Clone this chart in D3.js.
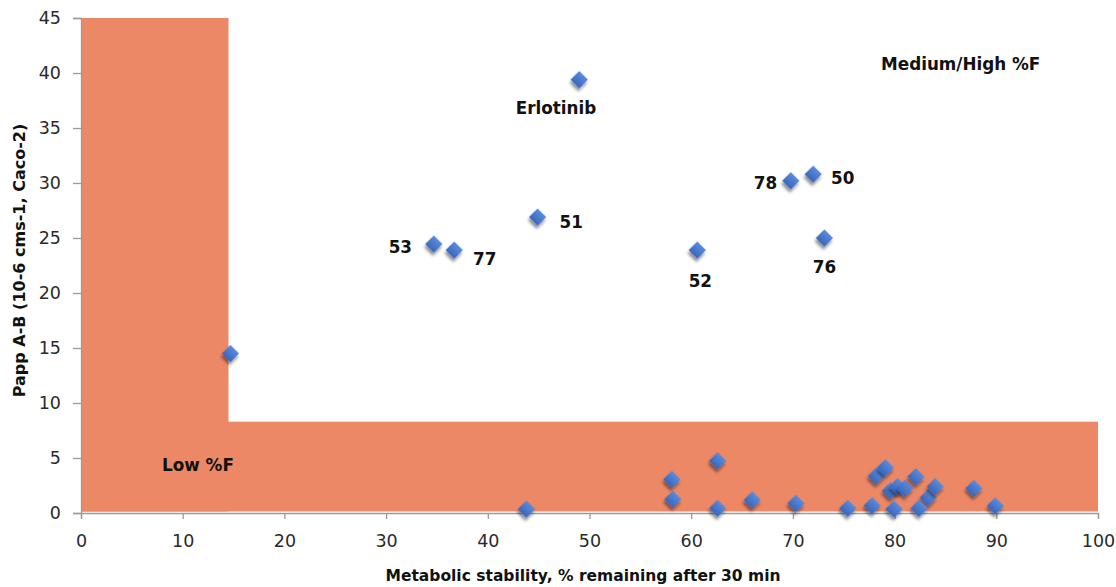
<!DOCTYPE html>
<meta charset="utf-8">
<script src="https://d3js.org/d3.v7.min.js"></script>
<style>
  body { margin: 0; background: #fff; }
  text { font-family: "DejaVu Sans", sans-serif; }
</style>
<body>
<div id="chart"></div>
<script>

// metabolic stability (% remaining) and Papp A-B values
var stability = [49.0, 14.7, 34.7, 36.7, 44.9, 60.6, 69.8, 72.0, 73.1,
                 43.8, 58.1, 58.2, 62.6, 62.6, 66.0, 70.3, 75.4, 77.8, 78.2,
                 79.1, 79.6, 80.3, 81.0, 79.95, 82.1, 83.3, 82.4, 84.0, 87.8, 89.9];
var papp = [39.4, 14.5, 24.45, 23.9, 26.9, 23.9, 30.2, 30.8, 25.0,
            0.35, 3.06, 1.25, 4.75, 0.43, 1.18, 0.88, 0.43, 0.67, 3.36,
            4.12, 2.03, 2.4, 2.24, 0.36, 3.3, 1.39, 0.43, 2.4, 2.24, 0.64];

// shaded "low %F" zone (data units)
var zoneX1 = [14.5, 100];
var zoneY1 = [45, 8.3];

// annotations, anchored in data units
var noteText = ["Erlotinib", "53", "77", "51", "52", "78", "50", "76", "Medium/High %F", "Low %F"];
var noteX    = [46.7, 31.4, 39.7, 48.2, 60.9, 67.3, 74.9, 73.1, 86.5, 11.5];
var noteY    = [36.8, 24.2, 23.1, 26.5, 21.1, 30.0, 30.5, 22.4, 40.8, 4.35];

var xTicks = [0, 10, 20, 30, 40, 50, 60, 70, 80, 90, 100];
var yTicks = [0, 5, 10, 15, 20, 25, 30, 35, 40, 45];

var margin = {top: 18, right: 18, bottom: 74, left: 81},
    width = 1116 - margin.left - margin.right,
    height = 587 - margin.top - margin.bottom;

var svg = d3.select("#chart")
  .append("svg")
    .attr("width", 1116)
    .attr("height", 587);

var defs = svg.append("defs");
var grad = defs.append("linearGradient")
    .attr("id", "blue")
    .attr("x1", 0).attr("y1", 0).attr("x2", 0).attr("y2", 1);
grad.append("stop").attr("offset", "0%").attr("stop-color", "#5a8bdc");
grad.append("stop").attr("offset", "100%").attr("stop-color", "#3a67bb");

var shadow = defs.append("filter")
    .attr("id", "shadow")
    .attr("x", "-50%").attr("y", "-50%")
    .attr("width", "200%").attr("height", "200%");
shadow.append("feDropShadow")
    .attr("dx", 1.5).attr("dy", 3)
    .attr("stdDeviation", 1.8)
    .attr("flood-color", "#000")
    .attr("flood-opacity", 0.45);

var g = svg.append("g")
    .attr("transform", "translate(" + margin.left + "," + margin.top + ")");

var x = d3.scaleLinear().domain([0, 100]).range([0, width]);
var y = d3.scaleLinear().domain([0, 45]).range([height, 0]);

// shaded zone
g.selectAll("rect.zone")
  .data(zoneX1)
  .enter()
  .append("rect")
    .attr("class", "zone")
    .attr("x", x(0))
    .attr("y", function(d, i) { return y(zoneY1[i]); })
    .attr("width", function(d) { return x(d) - x(0); })
    .attr("height", function(d, i) { return y(0) - y(zoneY1[i]) - 1.5; })
    .style("fill", "#ec8866");

// axes
var xAxis = d3.axisBottom(x).tickValues(xTicks).tickSize(6).tickPadding(16);
var yAxis = d3.axisLeft(y).tickValues(yTicks).tickSize(8).tickPadding(12);

var gx = g.append("g")
    .attr("transform", "translate(0," + height + ")")
    .call(xAxis);
var gy = g.append("g").call(yAxis);

[gx, gy].forEach(function(a) {
  a.select(".domain").attr("stroke", "#9a9a9a").attr("stroke-width", 1.3);
  a.selectAll(".tick line").attr("stroke", "#9a9a9a").attr("stroke-width", 1.3);
  a.selectAll(".tick text")
    .style("font-family", "DejaVu Sans, sans-serif")
    .style("font-size", "17.5px")
    .attr("fill", "#2a2a2a");
});

// points
g.append("g")
  .selectAll("path")
  .data(stability)
  .enter()
  .append("path")
    .attr("d", d3.symbol(d3.symbolSquare, 150))
    .attr("transform", function(d, i) {
      return "translate(" + x(d) + "," + y(papp[i]) + ") rotate(45)";
    })
    .style("fill", "url(#blue)")
    .attr("filter", "url(#shadow)");

// annotations
g.append("g")
  .selectAll("text")
  .data(noteText)
  .enter()
  .append("text")
    .attr("x", function(d, i) { return x(noteX[i]); })
    .attr("y", function(d, i) { return y(noteY[i]); })
    .attr("dy", "0.36em")
    .attr("text-anchor", "middle")
    .style("font-size", "16.8px")
    .style("font-weight", "bold")
    .attr("fill", "#111")
    .text(function(d) { return d; });

// axis titles
svg.append("text")
    .attr("x", 583)
    .attr("y", 581)
    .attr("text-anchor", "middle")
    .style("font-size", "15.5px")
    .style("font-weight", "bold")
    .attr("fill", "#111")
    .text("Metabolic stability, % remaining after 30 min");

svg.append("text")
    .attr("transform", "rotate(-90)")
    .attr("x", -(margin.top + height / 2) + 5)
    .attr("y", 25)
    .attr("text-anchor", "middle")
    .style("font-size", "16px")
    .style("font-weight", "bold")
    .attr("fill", "#111")
    .text("Papp A-B (10-6 cms-1, Caco-2)");

</script>
</body>
